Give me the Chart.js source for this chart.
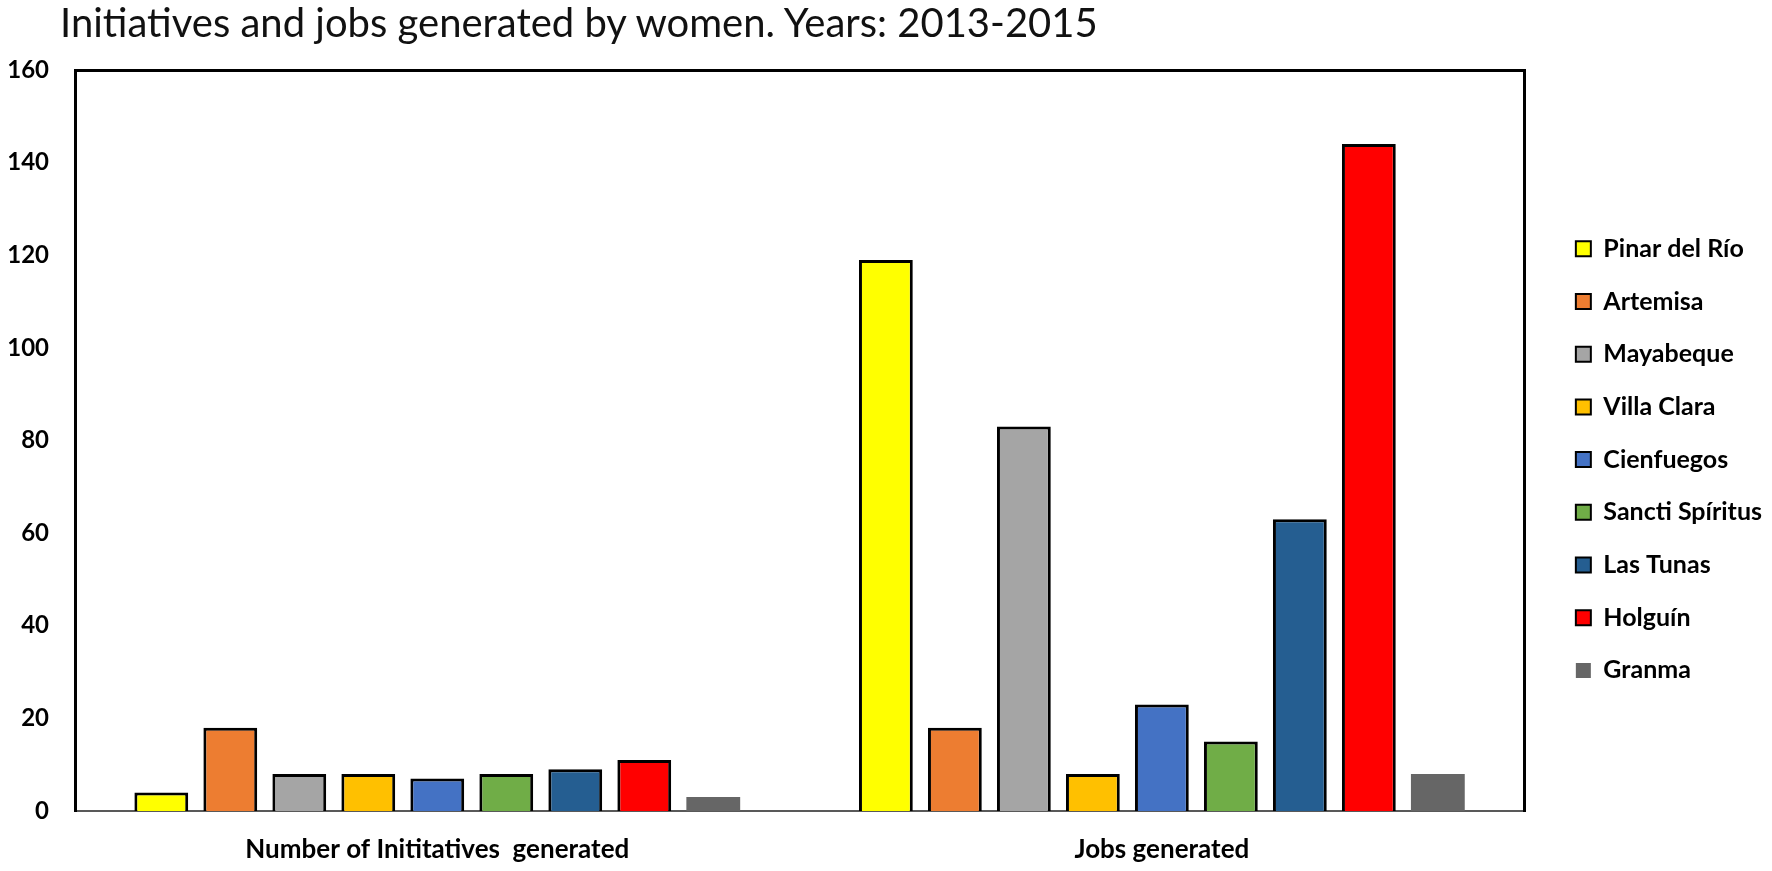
<!DOCTYPE html>
<html>
<head>
<meta charset="utf-8">
<title>Initiatives and jobs generated by women</title>
<script src="https://cdn.jsdelivr.net/npm/chart.js@4.4.0/dist/chart.umd.min.js"></script>
<style>
  html, body { margin: 0; padding: 0; background: #fff; }
  #wrap { position: relative; width: 1772px; height: 871px; }
  #title {
    position: absolute; left: 60px; top: -2px;
    font: 400 40px/48px Lato, sans-serif; color: #111; white-space: nowrap;
  }
  canvas { position: absolute; left: 0; top: 0; }
</style>
</head>
<body>
<div id="wrap">
  <canvas id="chart" width="1772" height="871"></canvas>
  <div id="title">Initiatives and jobs generated by women. Years: 2013-2015</div>
</div>
<script>
// data
const categories = ['Number of Inititatives  generated', 'Jobs generated'];
const provinces = ['Pinar del Río', 'Artemisa', 'Mayabeque', 'Villa Clara', 'Cienfuegos',
    'Sancti Spíritus', 'Las Tunas', 'Holguín', 'Granma'];
const initiatives = [4, 18, 8, 8, 7, 8, 9, 11, 3];
const jobs = [119, 18, 83, 8, 23, 15, 63, 144, 8];
const colors = ['#FFFF00', '#ED7D31', '#A5A5A5', '#FFC000', '#4472C4',
    '#70AD47', '#255E91', '#FF0000', '#666666'];
const yTicks = [0, 20, 40, 60, 80, 100, 120, 140, 160];

const datasets = provinces.map((name, i) => ({
    label: name,
    data: [initiatives[i], jobs[i]],
    backgroundColor: colors[i],
    borderColor: '#000',
    borderWidth: name === 'Granma' ? 0 : 3,
    barPercentage: 0.78,
    categoryPercentage: 0.857
}));

const ctx = document.getElementById('chart').getContext('2d');
new Chart(ctx, {
    type: 'bar',
    data: { labels: categories, datasets: datasets },
    options: {
        responsive: false,
        devicePixelRatio: 1,
        animation: false,
        layout: { padding: { left: 0, right: 0, top: 70, bottom: 0 } },
        plugins: {
            legend: {
                position: 'right',
                fullSize: false,
                maxWidth: 226,
                // invisible title only pushes the items down a bit
                title: { display: true, text: ' ', font: { size: 1 }, padding: { top: 37, bottom: 0 } },
                labels: {
                    boxWidth: 15,
                    boxHeight: 15,
                    padding: 27.7,
                    color: '#000',
                    font: { family: 'Lato', size: 25, weight: 'bold' },
                    generateLabels(chart) {
                        const items = Chart.defaults.plugins.legend.labels.generateLabels(chart);
                        items.forEach(it => { if (it.lineWidth) it.lineWidth = 2; });
                        return items;
                    }
                }
            },
            tooltip: { enabled: false }
        },
        scales: {
            x: {
                grid: { display: false, drawTicks: false },
                border: { display: true, color: '#595959', width: 2 },
                afterFit(s) { s.height = 60; },
                ticks: {
                    color: '#000',
                    padding: 23.4,
                    font: { family: 'Lato', size: 26, weight: 'bold' }
                }
            },
            xTop: {
                position: 'top',
                grid: { display: false, drawTicks: false },
                border: { display: true, color: '#000', width: 3 },
                ticks: { display: false },
                afterFit(s) { s.height = 0; }
            },
            y: {
                min: 0,
                max: 160,
                grid: { display: false, drawTicks: false },
                border: { display: true, color: '#000', width: 3 },
                afterBuildTicks(s) { s.ticks = yTicks.map(v => ({ value: v })); },
                afterFit(s) { s.width = 75; },
                ticks: {
                    color: '#000',
                    padding: 26,
                    font: { family: 'Lato', size: 24, weight: 'bold' }
                }
            },
            yRight: {
                position: 'right',
                grid: { display: false, drawTicks: false },
                border: { display: true, color: '#000', width: 3 },
                ticks: { display: false },
                afterFit(s) { s.width = 24; }
            }
        }
    }
});
</script>
</body>
</html>
